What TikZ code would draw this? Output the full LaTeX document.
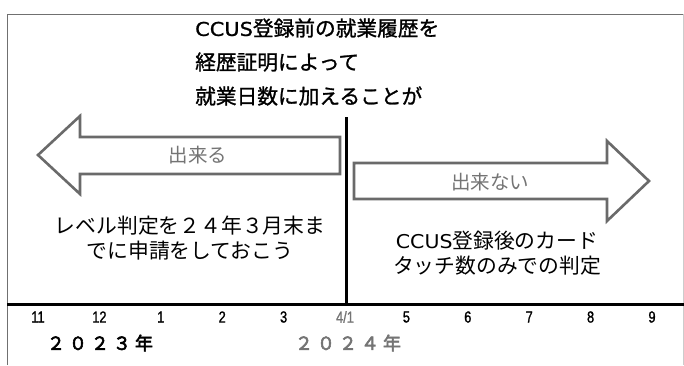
\documentclass[tikz,border=0pt]{standalone}
\usepackage{fontspec}
\setmainfont{Noto Sans CJK JP}
\newfontfamily\jptitle{Noto Sans CJK JP}[FakeBold=1.2]
\newfontfamily\jpbody{Noto Sans CJK JP}
\newfontfamily\jpyear{Noto Sans CJK JP}[FakeBold=3]
\newfontfamily\latwide{DejaVu Sans}[FakeStretch=1.08]
\newfontfamily\latwidebold{DejaVu Sans}[FakeStretch=1.1,FakeBold=1.0]
\newfontfamily\monthfont{Liberation Sans}[FakeStretch=0.8,FakeBold=1.2]
\definecolor{arrowgray}{HTML}{6A6A6A}
\definecolor{textgray}{HTML}{747474}
\definecolor{framegray}{HTML}{707070}
\begin{document}
\begin{tikzpicture}[x=1pt,y=-1pt,
  titletext/.style={anchor=west,inner sep=0pt,font=\jptitle\fontsize{20.7}{21}\selectfont},
  arrowtext/.style={inner sep=0pt,text=textgray,font=\jpbody\fontsize{19.5}{20}\selectfont},
  bodytext/.style={inner sep=0pt,align=center,font=\jpbody\fontsize{20.8}{25}\selectfont},
  monthlabel/.style={inner sep=0pt,font=\monthfont\fontsize{16}{17}\selectfont},
  yearlabel/.style={inner sep=0pt,font=\jpyear\fontsize{18}{19}\selectfont},
  bigarrow/.style={draw=arrowgray,line width=2.6pt,fill=white,line join=miter},
  thickline/.style={line width=3pt,black}]
\useasboundingbox (0,0) rectangle (684,365);
\fill[white] (0,0) rectangle (684,365);
% frame
\draw[framegray,line width=1pt] (7,365) -- (7,14) -- (683,14);
\draw[black!20,line width=0.8pt] (683,14) -- (683,365);
% title
\node[titletext] (t1) at (195,28) {{\latwidebold\fontsize{19}{21}\selectfont CCUS}登録前の就業履歴を};
\node[titletext] (t2) at (195,62) {経歴証明によって};
\node[titletext] (t3) at (195,96) {就業日数に加えることが};
% arrows
\draw[bigarrow] (340,137) -- (80,137) -- (80,116) -- (38,155) -- (80,194) -- (80,174) -- (340,174) -- cycle;
\draw[bigarrow] (354,163) -- (607,163) -- (607,141) -- (649,181) -- (607,221) -- (607,199) -- (354,199) -- cycle;
\node[arrowtext] (can) at (198,155) {出来る};
\node[arrowtext] (cannot) at (490,182) {出来ない};
% body texts
\node[bodytext] (lefttext) at (190,238) {レベル判定を２４年３月末ま\\でに申請をしておこう};
\node[bodytext] (righttext) at (497,253) {{\latwide\fontsize{19}{25}\selectfont CCUS}登録後のカード\\タッチ数のみでの判定};
% axis
\coordinate (axL) at (7,304);
\coordinate (axR) at (684,304);
\coordinate (vT) at (346,117);
\coordinate (vB) at (346,304);
\draw[thickline] (vT) -- (vB);
\draw[thickline] (axL) -- (axR);
% months
\foreach \m [count=\i from 0] in {11,12,1,2,3} {
  \node[monthlabel] (m\i) at (38+61.4*\i,317) {\m};
}
\node[monthlabel,text=textgray] (m5) at (345,317) {4/1};
\foreach \m [count=\i from 6] in {5,6,7,8,9} {
  \node[monthlabel] (m\i) at (38+61.4*\i,317) {\m};
}
% years
\node[yearlabel] (y1) at (100,343) {２\hspace{4pt}０\hspace{4pt}２\hspace{4pt}３\hspace{4pt}年};
\node[yearlabel,text=textgray] (y2) at (348,343) {２\hspace{4pt}０\hspace{4pt}２\hspace{4pt}４\hspace{4pt}年};
\end{tikzpicture}
\end{document}
